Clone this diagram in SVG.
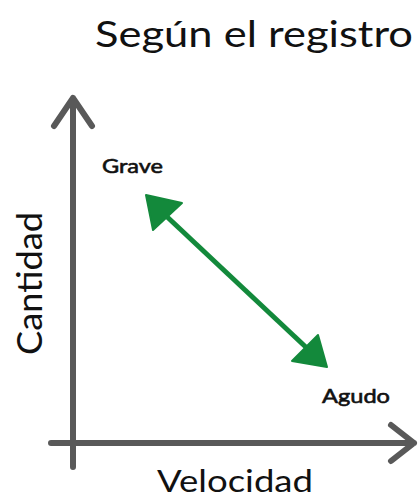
<svg xmlns="http://www.w3.org/2000/svg" width="420" height="500" viewBox="0 0 420 500">
<style>
.axis{stroke:#595959;stroke-width:6;fill:none;stroke-linecap:round;stroke-linejoin:round}
.t{font-family:Lato,"Open Sans",sans-serif;fill:#111}
.s{font-family:Lato,"Open Sans",sans-serif;fill:#111;stroke:#111;stroke-width:0.6}
</style>
<rect width="420" height="500" fill="#fff"/>
<text class="t" x="95" y="47" font-size="37" textLength="318" lengthAdjust="spacingAndGlyphs">Según el registro</text>
<g id="connectors">
<g id="y-axis"><path class="axis" d="M73 467 V98 M54 126 L73 98 L92 126"/></g>
<g id="x-axis"><path class="axis" d="M51 443 H414 M391 425 L414 443 L391 461"/></g>
<g id="green-arrow">
<line x1="163" y1="213" x2="310" y2="351" stroke="#13893b" stroke-width="5"/>
<polygon points="146,195 182,203 153,230" fill="#13893b" stroke="#13893b" stroke-width="2" stroke-linejoin="round"/>
<polygon points="327,367 292,361 318,335" fill="#13893b" stroke="#13893b" stroke-width="2" stroke-linejoin="round"/>
</g>
</g>
<g id="grave"><text class="s" x="102" y="173" font-size="20" textLength="61" lengthAdjust="spacingAndGlyphs">Grave</text></g>
<g id="agudo"><text class="s" x="322" y="403" font-size="20" textLength="68" lengthAdjust="spacingAndGlyphs">Agudo</text></g>
<g id="velocidad"><text class="t" x="157" y="492" font-size="30" textLength="156" lengthAdjust="spacingAndGlyphs">Velocidad</text></g>
<g id="cantidad"><text class="t" transform="translate(42 355) rotate(-90)" x="0" y="0" font-size="34" textLength="143" lengthAdjust="spacingAndGlyphs">Cantidad</text></g>
</svg>
